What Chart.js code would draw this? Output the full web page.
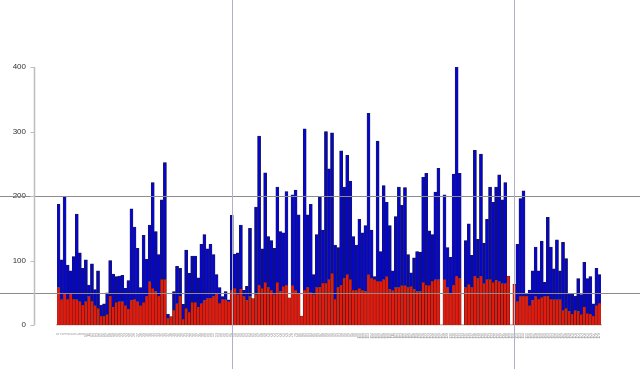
<!DOCTYPE html>
<html>
<head>
<meta charset="utf-8">
<script src="https://cdn.jsdelivr.net/npm/chart.js@4.4.0/dist/chart.umd.min.js"></script>
<style>
html,body{margin:0;padding:0;background:#fff;}
#wrap{width:640px;height:369px;}
</style>
</head>
<body>
<div id="wrap"><canvas id="c" width="640" height="369"></canvas></div>
<script>
// Category labels (illegible in the reference; numbered in order)
const categories = [];
for (let i = 1; i <= 179; i++) categories.push(String(i));

// Lower (red) segment of each bar
const redValues = [
 58,39,49,40,49,40,39,36,31,36,44,37,30,26,14,14,16,45,28,35,
 36,36,30,25,38,40,36,30,35,45,67,57,52,45,71,71,10,13,23,33,
 45,9,26,20,35,35,28,33,38,41,42,44,49,34,40,39,36,53,57,47,
 56,44,38,44,41,47,62,57,66,58,54,47,66,52,60,62,42,61,54,49,
 14,54,58,50,47,58,59,65,65,70,80,40,58,62,72,78,71,54,54,57,
 54,52,78,72,71,68,67,70,75,55,53,58,58,61,61,58,60,55,52,52,
 66,62,61,68,70,70,null,71,58,48,62,76,72,null,58,63,58,76,72,76,
 64,70,71,66,69,67,64,64,76,null,63,36,45,45,45,30,38,44,40,43,
 44,45,40,39,39,39,22,26,21,17,22,21,16,28,18,17,14,30,34
];

// Upper (blue) segment of each bar
const blueValues = [
 129,62,150,53,35,66,133,76,57,65,18,58,25,58,17,19,34,55,51,40,
 40,41,27,44,142,112,83,28,104,57,88,164,93,64,123,181,7,0,29,58,
 43,23,90,60,72,72,45,92,102,77,83,65,29,24,4,13,3,117,53,65,
 99,10,22,106,0,136,231,61,170,79,77,72,148,93,83,145,0,141,155,122,
 0,250,113,137,31,82,140,82,235,172,218,84,62,208,142,185,152,83,70,107,
 89,102,250,75,4,217,47,146,115,99,31,110,156,125,152,51,21,49,62,61,
 163,173,85,72,136,173,null,131,62,57,172,324,163,null,73,94,50,195,61,189,
 63,94,143,124,145,166,130,157,0,null,0,89,151,163,3,24,46,77,44,87,
 22,122,81,48,93,45,106,77,27,31,23,51,31,69,54,58,19,58,44
];

// Y axis tick values
const yTicks = [0, 100, 200, 300, 400];
// Reference lines
const hLines = [50, 200];
const vLineCats = [57, 150];

const refLines = {
  id: 'refLines',
  afterDatasetsDraw(chart) {
    const ctx = chart.ctx, x = chart.scales.x, y = chart.scales.y;
    ctx.save();
    ctx.lineWidth = 1;
    ctx.strokeStyle = '#8c8c8c';
    hLines.forEach(v => {
      const py = Math.round(y.getPixelForValue(v)) + 0.5;
      ctx.beginPath(); ctx.moveTo(0, py); ctx.lineTo(chart.width, py); ctx.stroke();
    });
    ctx.strokeStyle = '#b0b0cc';
    vLineCats.forEach(c => {
      const px = Math.round(x.getPixelForValue(c)) + 0.5;
      ctx.beginPath(); ctx.moveTo(px, 0); ctx.lineTo(px, chart.height); ctx.stroke();
    });
    // left axis line and tick marks (R style, offset from plot)
    const ax = chart.chartArea.left - 22.5;
    ctx.strokeStyle = '#bdbdbd';
    ctx.lineWidth = 1.5;
    ctx.beginPath();
    ctx.moveTo(ax, y.getPixelForValue(yTicks[0]));
    ctx.lineTo(ax, y.getPixelForValue(yTicks[yTicks.length - 1]));
    ctx.stroke();
    ctx.lineWidth = 1;
    yTicks.forEach(v => {
      const py = Math.round(y.getPixelForValue(v)) + 0.5;
      ctx.beginPath(); ctx.moveTo(ax - 4, py); ctx.lineTo(ax, py); ctx.stroke();
    });
    ctx.restore();
  }
};

new Chart(document.getElementById('c'), {
  type: 'bar',
  data: {
    labels: categories,
    datasets: [
      { data: redValues, backgroundColor: '#e31a0e', borderColor: '#202020', borderWidth: 0.5 },
      { data: blueValues, backgroundColor: '#0606c6', borderColor: '#202020', borderWidth: 0.5 }
    ]
  },
  options: {
    responsive: false,
    animation: false,
    devicePixelRatio: 1,
    layout: { padding: { left: 0, right: 39, top: 67, bottom: 0 } },
    plugins: { legend: { display: false }, tooltip: { enabled: false } },
    datasets: { bar: { barPercentage: 1, categoryPercentage: 1 } },
    scales: {
      x: {
        stacked: true,
        grid: { display: false, drawTicks: false },
        border: { display: true, color: '#c4c4c4', width: 1.5 },
        ticks: {
          autoSkip: false, minRotation: 90, maxRotation: 90, padding: 8,
          color: '#8a8a8a', font: { family: 'Liberation Sans', size: 3.5 }
        },
        afterFit: s => { s.height = 44; }
      },
      y: {
        stacked: true,
        min: 0, max: 400,
        afterBuildTicks: s => { s.ticks = yTicks.map(v => ({ value: v })); },
        grid: { display: false, drawTicks: false },
        border: { display: false },
        ticks: {
          padding: 31, color: '#333',
          font: { family: 'Liberation Sans', size: 8 }
        },
        afterFit: s => { s.width = 57; }
      }
    }
  },
  plugins: [refLines]
});
</script>
</body>
</html>
